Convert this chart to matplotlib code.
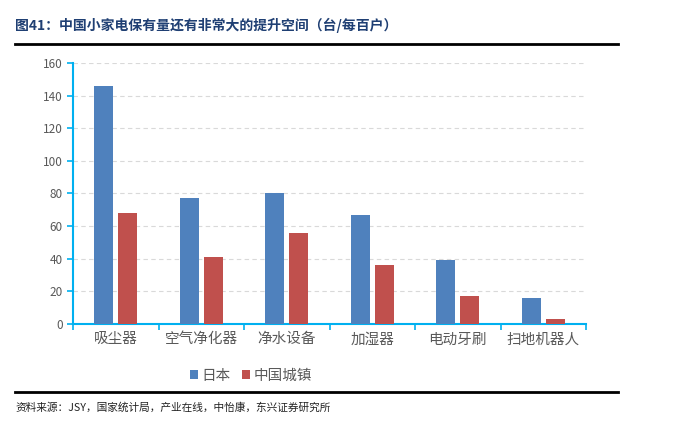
import matplotlib.pyplot as plt
import numpy as np

plt.rcParams['font.family'] = ['Noto Sans CJK SC', 'DejaVu Sans']

categories = ['吸尘器', '空气净化器', '净水设备', '加湿器', '电动牙刷', '扫地机器人']
japan = [146, 77, 80, 67, 39, 16]
china_urban = [68, 41, 56, 36, 17, 3]
series_names = ['日本', '中国城镇']
yticks = [0, 20, 40, 60, 80, 100, 120, 140, 160]

fig = plt.figure(figsize=(6.76, 4.23), dpi=100)
ax = fig.add_axes([73/676, 1-324/423, 513/676, 261/423])

x = np.arange(len(categories))
w = 0.22
ax.bar(x - 0.14, japan, w, color='#4F81BD', label=series_names[0], zorder=3)
ax.bar(x + 0.14, china_urban, w, color='#C0504D', label=series_names[1], zorder=3)

ax.set_xlim(-0.5, len(categories) - 0.5)
ax.set_ylim(0, 160)
ax.set_yticks(yticks)
ax.yaxis.grid(True, linestyle=(0, (4, 3)), color='#D9D9D9', linewidth=0.8, zorder=0)

ax.set_xticks(x)
ax.set_xticklabels(categories, fontsize=10.5, color='#595959')
ax.set_xticks(np.arange(-0.5, len(categories)), minor=True)
ax.tick_params(axis='x', which='major', length=0, pad=6)
ax.tick_params(axis='x', which='minor', length=4, color='#00B0F0', width=1.2, direction='out')
ax.tick_params(axis='y', length=4, color='#00B0F0', width=1.2, labelsize=8.5, labelcolor='#595959')

for s in ['top', 'right']:
    ax.spines[s].set_visible(False)
for s in ['left', 'bottom']:
    ax.spines[s].set_color('#00B0F0')
    ax.spines[s].set_linewidth(1.5)

leg = fig.legend(loc='center', bbox_to_anchor=(251/676, 1-376/423), ncol=2, frameon=False,
                 fontsize=10.5, handlelength=0.55, handleheight=0.55, handletextpad=0.2,
                 columnspacing=0.8)
for t in leg.get_texts():
    t.set_color('#595959')

fig.text(15/676, 1-25/423, '图41：中国小家电保有量还有非常大的提升空间（台/每百户）',
         fontsize=10, fontweight='bold', color='#1F3F73', va='center', ha='left')
fig.add_artist(plt.Line2D([15/676, 618/676], [1-44/423, 1-44/423], color='black', linewidth=2))
fig.add_artist(plt.Line2D([15/676, 618/676], [1-392/423, 1-392/423], color='black', linewidth=2))
fig.text(15/676, 1-408/423, '资料来源：JSY，国家统计局，产业在线，中怡康，东兴证券研究所',
         fontsize=7.7, color='#222222', va='center', ha='left', style='italic')

fig.savefig('out.png', dpi=100)
